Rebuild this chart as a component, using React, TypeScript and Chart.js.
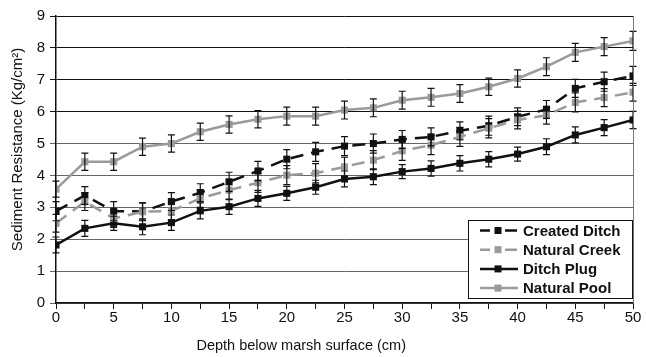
import React, { useEffect, useRef } from 'react';
import { Chart, registerables } from 'chart.js';
Chart.register(...registerables);

const depths = [0, 2.5, 5, 7.5, 10, 12.5, 15, 17.5, 20, 22.5, 25, 27.5, 30, 32.5, 35, 37.5, 40, 42.5, 45, 47.5, 50];
const createdDitch = [2.88, 3.37, 2.88, 2.87, 3.18, 3.46, 3.8, 4.14, 4.51, 4.74, 4.92, 5.0, 5.13, 5.21, 5.4, 5.56, 5.84, 6.07, 6.73, 6.94, 7.12];
const createdDitchErr = [0.3, 0.28, 0.3, 0.27, 0.28, 0.28, 0.3, 0.3, 0.3, 0.3, 0.3, 0.3, 0.28, 0.28, 0.28, 0.3, 0.28, 0.28, 0.28, 0.3, 0.3];
const naturalCreek = [2.5, 3.18, 2.65, 2.86, 2.89, 3.28, 3.54, 3.77, 4.01, 4.07, 4.27, 4.48, 4.77, 4.95, 5.21, 5.48, 5.74, 5.89, 6.29, 6.44, 6.61];
const naturalCreekErr = [0.28, 0.28, 0.28, 0.28, 0.28, 0.28, 0.3, 0.3, 0.3, 0.3, 0.3, 0.3, 0.3, 0.3, 0.3, 0.3, 0.28, 0.28, 0.3, 0.28, 0.28];
const ditchPlug = [1.82, 2.34, 2.5, 2.39, 2.52, 2.89, 3.02, 3.28, 3.44, 3.63, 3.89, 3.96, 4.12, 4.22, 4.38, 4.51, 4.67, 4.9, 5.27, 5.5, 5.74];
const ditchPlugErr = [0.25, 0.25, 0.22, 0.25, 0.24, 0.25, 0.24, 0.25, 0.22, 0.22, 0.25, 0.25, 0.22, 0.24, 0.24, 0.24, 0.22, 0.25, 0.25, 0.25, 0.27];
const naturalPool = [3.57, 4.43, 4.43, 4.9, 5.0, 5.37, 5.6, 5.76, 5.86, 5.86, 6.05, 6.12, 6.36, 6.45, 6.57, 6.78, 7.04, 7.41, 7.86, 8.04, 8.22];
const naturalPoolErr = [0.25, 0.27, 0.27, 0.27, 0.27, 0.27, 0.27, 0.27, 0.28, 0.28, 0.28, 0.28, 0.28, 0.28, 0.28, 0.27, 0.27, 0.28, 0.28, 0.28, 0.3];

const seriesNames = ['Created Ditch', 'Natural Creek', 'Ditch Plug', 'Natural Pool'];
const xTitle = 'Depth below marsh surface (cm)';
const yTitle = 'Sediment Resistance (Kg/cm²)';

const BLACK = '#111111';
const GRAY = '#9a9a9a';
const FONT = '"Liberation Sans", Arial, Helvetica, sans-serif';

export default function App() {
  const ref = useRef<HTMLCanvasElement>(null);
  useEffect(() => {
    document.body.style.margin = '0';
    const canvas = ref.current!;
    const seriesVals = [createdDitch, naturalCreek, ditchPlug, naturalPool];
    const seriesErr = [createdDitchErr, naturalCreekErr, ditchPlugErr, naturalPoolErr];
    const colors = [BLACK, GRAY, BLACK, GRAY];
    const dashes = [[13, 8], [13, 8], [], []];
    const order = [3, 1, 0, 2];

    const datasets = order.map((i) => ({
      label: seriesNames[i],
      data: depths.map((d, k) => ({ x: d, y: seriesVals[i][k] })),
      borderColor: colors[i],
      backgroundColor: colors[i],
      borderWidth: 2.5,
      borderDash: dashes[i],
      pointStyle: 'rect' as const,
      pointRadius: 5,
      pointBorderWidth: 0,
      tension: 0,
      errs: seriesErr[i],
    }));

    const errPlugin = {
      id: 'errbars',
      afterDatasetsDraw(chart: any) {
        const ctx = chart.ctx;
        const xs = chart.scales.x;
        const ys = chart.scales.y;
        ctx.save();
        ctx.strokeStyle = '#111';
        ctx.lineWidth = 1.2;
        chart.data.datasets.forEach((ds: any) => {
          ds.data.forEach((p: any, k: number) => {
            const e = ds.errs[k];
            const px = xs.getPixelForValue(p.x);
            const top = ys.getPixelForValue(p.y + e);
            const bot = ys.getPixelForValue(p.y - e);
            ctx.beginPath();
            ctx.moveTo(px, top);
            ctx.lineTo(px, bot);
            ctx.moveTo(px - 3.5, top);
            ctx.lineTo(px + 3.5, top);
            ctx.moveTo(px - 3.5, bot);
            ctx.lineTo(px + 3.5, bot);
            ctx.stroke();
          });
        });
        ctx.restore();
      },
    };

    const decoPlugin = {
      id: 'deco',
      afterDraw(chart: any) {
        const ctx = chart.ctx;
        const a = chart.chartArea;
        ctx.save();
        // right border
        ctx.strokeStyle = '#777';
        ctx.lineWidth = 1;
        ctx.beginPath();
        ctx.moveTo(a.right + 0.5, a.top);
        ctx.lineTo(a.right + 0.5, a.bottom);
        ctx.stroke();
        // axis titles
        ctx.fillStyle = '#111';
        ctx.font = '14.5px ' + FONT;
        ctx.textAlign = 'center';
        ctx.textBaseline = 'alphabetic';
        ctx.fillText(xTitle, a.left + a.width * 0.425, 350);
        ctx.save();
        ctx.translate(18, a.top + a.height * 0.465);
        ctx.rotate(-Math.PI / 2);
        ctx.font = '15px ' + FONT;
        ctx.textBaseline = 'middle';
        ctx.fillText(yTitle, 0, 0);
        ctx.restore();
        // legend
        const lx = 468.5, ly = 220.5, lw = 164, lh = 78;
        ctx.fillStyle = '#fff';
        ctx.fillRect(lx, ly, lw, lh);
        ctx.strokeStyle = '#111';
        ctx.lineWidth = 1;
        ctx.strokeRect(lx, ly, lw, lh);
        const rows = [0, 1, 2, 3];
        rows.forEach((i) => {
          const y = ly + 10 + i * 19.2;
          ctx.strokeStyle = colors[i];
          ctx.lineWidth = 2.5;
          ctx.beginPath();
          if (i < 2) {
            ctx.moveTo(480, y);
            ctx.lineTo(490, y);
            ctx.moveTo(505, y);
            ctx.lineTo(517, y);
          } else {
            ctx.moveTo(480, y);
            ctx.lineTo(518, y);
          }
          ctx.stroke();
          ctx.fillStyle = colors[i];
          ctx.fillRect(494.5, y - 3.5, 7, 7);
          ctx.fillStyle = '#111';
          ctx.font = 'bold 15px ' + FONT;
          ctx.textAlign = 'left';
          ctx.textBaseline = 'middle';
          ctx.fillText(seriesNames[i], 523, y + 1);
        });
        ctx.restore();
      },
    };

    const chart = new Chart(canvas, {
      type: 'line',
      data: { datasets: datasets as any },
      plugins: [errPlugin, decoPlugin],
      options: {
        animation: false,
        responsive: false,
        maintainAspectRatio: false,
        layout: { padding: { top: 16, right: 13, left: 0, bottom: 0 } },
        plugins: { legend: { display: false }, tooltip: { enabled: false } },
        scales: {
          x: {
            type: 'linear',
            min: 0,
            max: 50,
            afterBuildTicks: (s: any) => {
              s.ticks = depths.map((d) => ({ value: d }));
            },
            afterFit: (s: any) => {
              s.height = 54;
            },
            ticks: {
              color: '#111',
              font: { family: FONT, size: 15 },
              maxRotation: 0,
              autoSkip: false,
              padding: 0,
              callback: (v: any) => (Number(v) % 5 === 0 ? String(v) : ''),
            },
            grid: { drawOnChartArea: false, drawTicks: true, tickLength: 6, color: '#111', lineWidth: 1 },
            border: { color: '#111', width: 1.5 },
          },
          y: {
            type: 'linear',
            min: 0,
            max: 9,
            afterFit: (s: any) => {
              s.width = 56;
            },
            ticks: {
              stepSize: 1,
              color: '#111',
              font: { family: FONT, size: 15 },
              padding: 5,
            },
            grid: {
              color: (c: any) => (c.tick && c.tick.value >= 6 ? '#111' : '#666'),
              lineWidth: 1,
              tickLength: 6,
              drawTicks: true,
            },
            border: { color: '#111', width: 1.5 },
          },
        },
      },
    });
    return () => chart.destroy();
  }, []);
  return (
    <div style={{ width: 646, height: 357, background: '#fff' }}>
      <canvas ref={ref} width={646} height={357} style={{ display: 'block', width: 646, height: 357 }} />
    </div>
  );
}
